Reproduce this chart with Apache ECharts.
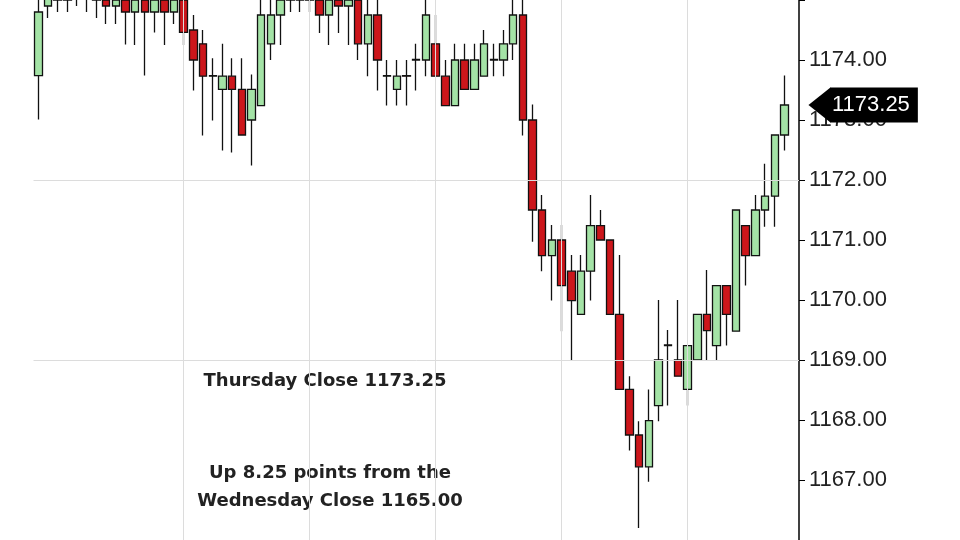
<!DOCTYPE html>
<html><head><meta charset="utf-8">
<script src="https://cdn.jsdelivr.net/npm/echarts@6/dist/echarts.min.js"></script>
<style>html,body{margin:0;padding:0;background:#fff}#c{width:960px;height:540px}</style>
</head><body><div id="c"></div>
<script>
const opens  = [1173.74,1174.9,1175.2,1175.0,1175.3,1175.1,1175.2,1175.0,1174.9,1175.0,1174.8,1175.0,1174.8,1175.0,1174.8,1175.0,1174.5,1174.27,1173.73,1173.51,1173.73,1173.51,1173.0,1173.24,1174.27,1174.75,1175.0,1175.2,1175.0,1175.0,1174.75,1175.0,1174.9,1175.0,1174.27,1174.75,1173.73,1173.51,1173.74,1174.0,1174.0,1174.27,1173.73,1173.24,1174.0,1173.51,1173.73,1174.0,1174.0,1174.27,1174.75,1173.0,1171.5,1170.74,1171.0,1170.48,1169.76,1170.48,1171.24,1171.0,1169.76,1168.51,1167.75,1167.22,1168.24,1169.24,1169.0,1168.51,1169.0,1169.76,1169.24,1170.24,1169.48,1171.24,1170.74,1171.5,1171.73,1172.75];
const closes = [1174.8,1175.2,1175.0,1175.3,1175.1,1175.2,1175.0,1174.9,1175.0,1174.8,1175.0,1174.8,1175.0,1174.8,1175.0,1174.46,1174.0,1173.73,1173.74,1173.73,1173.51,1172.75,1173.51,1174.75,1174.75,1175.0,1175.2,1175.0,1175.1,1174.75,1175.0,1174.9,1175.0,1174.27,1174.75,1174.0,1173.74,1173.73,1173.73,1174.01,1174.75,1173.73,1173.24,1174.0,1173.51,1174.0,1174.27,1174.01,1174.27,1174.75,1173.0,1171.5,1170.74,1171.0,1170.24,1169.99,1170.48,1171.24,1171.0,1169.76,1168.51,1167.75,1167.22,1167.99,1169.0,1169.25,1168.73,1169.24,1169.76,1169.49,1170.24,1169.76,1171.5,1170.74,1171.5,1171.73,1172.75,1173.25];
const lows   = [1173.01,1174.7,1174.8,1174.8,1174.9,1174.8,1174.7,1174.6,1174.6,1174.26,1174.25,1173.74,1174.46,1174.25,1174.6,1174.25,1173.49,1172.74,1172.99,1172.49,1172.46,1172.74,1172.24,1173.24,1174.0,1174.25,1174.8,1174.8,1174.8,1174.45,1174.25,1174.45,1174.25,1174.0,1173.73,1173.49,1173.24,1173.24,1173.24,1173.49,1173.73,1173.73,1173.24,1173.24,1173.51,1173.51,1173.73,1173.73,1173.73,1174.0,1172.74,1170.97,1170.48,1169.99,1169.48,1168.99,1169.76,1169.99,1171.0,1169.76,1168.51,1167.49,1166.2,1166.97,1167.98,1168.24,1168.73,1168.24,1169.0,1169.0,1169.0,1169.24,1169.48,1170.24,1170.74,1171.22,1171.22,1172.49];
const highs  = [1175.0,1175.4,1175.4,1175.5,1175.5,1175.4,1175.4,1175.3,1175.2,1175.2,1175.2,1175.2,1175.2,1175.2,1175.2,1175.2,1174.75,1174.5,1174.03,1174.27,1174.03,1174.03,1173.76,1175.0,1175.0,1175.25,1175.4,1175.4,1175.3,1175.25,1175.25,1175.2,1175.2,1175.2,1175.0,1175.0,1174.0,1174.0,1174.0,1174.27,1175.0,1174.75,1174.0,1174.27,1174.27,1174.27,1174.5,1174.27,1174.5,1175.0,1175.0,1173.26,1171.75,1171.25,1171.25,1170.75,1170.75,1171.75,1171.5,1171.0,1170.75,1168.73,1167.98,1168.51,1170.0,1169.5,1170.0,1169.24,1169.76,1170.5,1170.24,1170.24,1171.5,1171.24,1171.75,1172.27,1172.75,1173.74];
const yTicks = [1167,1168,1169,1170,1171,1172,1173,1174];
const gridX = [15,28,41,54,67];
const gridY = [1172,1169];
const lastClose = 1173.25;
const note1 = 'Thursday Close 1173.25';
const note2 = 'Up 8.25 points from the';
const note3 = 'Wednesday Close 1165.00';

const cats = opens.map((_, i) => String(i)).concat(['pad']);
const data = opens.map((o, i) => [o, closes[i], lows[i], highs[i]]).concat(['-']);
const lastCat = String(opens.length - 1);
const chart = echarts.init(document.getElementById('c'));
const font = 'Liberation Sans, Arial, sans-serif';
chart.setOption({
  animation: false,
  grid: {left: 33.5, right: 161, top: -33, bottom: -30},
  xAxis: {type: 'category', data: cats, boundaryGap: true, axisLine: {show: false}, axisTick: {show: false}, axisLabel: {show: false}, splitLine: {show: false}},
  yAxis: {type: 'value', position: 'right', min: 1166, max: 1175, interval: 1,
    axisLine: {show: true, lineStyle: {color: '#000', width: 1.5}},
    axisTick: {show: true, length: 6, lineStyle: {color: '#000'}},
    splitLine: {show: false},
    axisLabel: {color: '#222', fontSize: 22, fontFamily: font, margin: 10,
      formatter: v => yTicks.includes(Math.round(v)) ? v.toFixed(2) : ''}},
  series: [{
    type: 'candlestick', data: data, barWidth: 8,
    itemStyle: {color: '#a4e3a6', color0: '#cc161b', borderColor: '#111', borderColor0: '#111', borderWidth: 1.3},
    markLine: {silent: true, symbol: 'none', animation: false,
      lineStyle: {color: '#dcdcdc', width: 1, type: 'solid'}, label: {show: false},
      data: gridX.map(i => ({xAxis: String(i)})).concat(gridY.map(v => ({yAxis: v})))},
    markPoint: {silent: true, animation: false, data: [
      {coord: [lastCat, lastClose], symbol: 'triangle', symbolRotate: 90, symbolSize: [35, 22], symbolOffset: [35, 0], itemStyle: {color: '#000'}, label: {show: false}},
      {coord: [lastCat, lastClose], symbol: 'rect', symbolSize: [1, 1], symbolOffset: [45, 0], itemStyle: {color: '#000'},
        label: {show: true, position: 'right', distance: 0, formatter: lastClose.toFixed(2), color: '#fff', backgroundColor: '#000',
          fontSize: 22, fontFamily: font, height: 35, lineHeight: 35, padding: [0, 8, 0, 2]}}
    ]}
  }],
  graphic: [
    {type: 'text', style: {x: 325, y: 372, text: note1, font: 'bold 18px DejaVu Sans, sans-serif', fill: '#222', textAlign: 'center'}},
    {type: 'text', style: {x: 330, y: 459, text: note2 + '\n' + note3, font: 'bold 18px DejaVu Sans, sans-serif', fill: '#222', textAlign: 'center', lineHeight: 28}}
  ]
});
</script></body></html>
